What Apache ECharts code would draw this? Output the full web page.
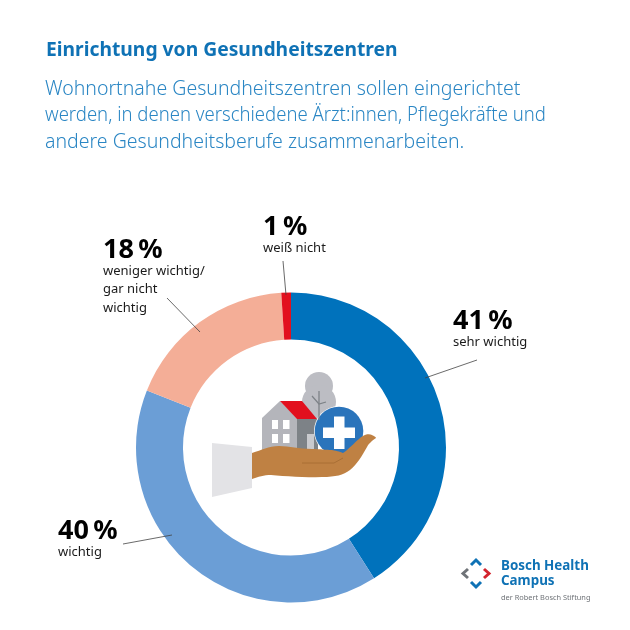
<!DOCTYPE html>
<html lang="de">
<head>
    <meta charset="utf-8"/>
    <title>Einrichtung von Gesundheitszentren</title>
    <script src="https://cdn.jsdelivr.net/npm/echarts@6/dist/echarts.min.js"></script>
</head>
<body style="margin: 0;background: #fff">
<div id="chart" style="width: 630px;height: 630px"></div>
<script>
    const categories = ['sehr wichtig', 'wichtig', 'weniger wichtig/\ngar nicht\nwichtig', 'weiß nicht'];
    const values = [41, 40, 18, 1];
    const colors = ['#0072bc', '#6b9ed6', '#f4ae97', '#e2101e'];
    const titleText = 'Einrichtung von Gesundheitszentren';
    const subtitleLines = [
        'Wohnortnahe Gesundheitszentren sollen eingerichtet',
        'werden, in denen verschiedene Ärzt:innen, Pflegekräfte und',
        'andere Gesundheitsberufe zusammenarbeiten.'
    ];
    const FONT = '"Noto Sans", sans-serif';

    // label anchors + leader lines, same order as categories
    const labelPos = [[453, 321], [58, 531], [103, 250], [263, 227]];
    const leaders = [
        [[477, 360], [425, 378]],
        [[123, 544], [172, 535]],
        [[167, 298], [200, 332]],
        [[283, 261], [286, 295]]
    ];
    // the source font runs narrower on line 2
    const subtitleScale = [1, 0.95, 1];

    // hand outline: start point, then cubic segments
    const handStart = [252, 453];
    const handCurves = [
        [262, 450, 268, 446, 279, 446], [290, 446, 298, 449, 312, 449], [320, 449, 326, 450, 332, 450],
        [338, 451, 341, 452, 343, 453], [349, 449, 354, 443, 359, 439], [363, 435, 368, 433, 372, 435],
        [374, 436, 376, 437, 376, 438], [372, 441, 369, 443, 367, 447], [362, 456, 357, 464, 350, 470],
        [343, 475, 336, 477, 322, 477], [305, 478, 285, 476, 271, 475], [264, 475, 258, 477, 252, 479]
    ];

    function text(x, y, str, size, weight, color, extra) {
        return Object.assign({
            type: 'text', x: x, y: y, silent: true,
            style: {
                text: str, fill: color, verticalAlign: 'middle',
                font: weight + ' ' + size + 'px ' + FONT
            }
        }, extra || {});
    }
    function poly(points, fill) {
        return {type: 'polygon', silent: true, shape: {points: points}, style: {fill: fill}};
    }
    function rect(x, y, w, h, fill) {
        return {type: 'rect', silent: true, shape: {x: x, y: y, width: w, height: h}, style: {fill: fill}};
    }
    function circle(cx, cy, r, fill) {
        return {type: 'circle', silent: true, shape: {cx: cx, cy: cy, r: r}, style: {fill: fill}};
    }
    function line(points, stroke, width) {
        return {
            type: 'polyline', silent: true, z: 10, shape: {points: points},
            style: {stroke: stroke, lineWidth: width, fill: null, lineJoin: 'miter'}
        };
    }
    function flatten(start, curves) {
        let pts = [start], p = start;
        curves.forEach(c => {
            for (let k = 1; k <= 8; k++) {
                const t = k / 8, u = 1 - t;
                pts.push([
                    u * u * u * p[0] + 3 * u * u * t * c[0] + 3 * u * t * t * c[2] + t * t * t * c[4],
                    u * u * u * p[1] + 3 * u * u * t * c[1] + 3 * u * t * t * c[3] + t * t * t * c[5]
                ]);
            }
            p = [c[4], c[5]];
        });
        return pts;
    }

    let graphics = [
        text(46, 51, titleText, 19.3, 700, '#0f72b5')
    ];
    subtitleLines.forEach((s, i) => {
        graphics.push(text(45, 89 + i * 26.5, s, 19.5, 300, '#2a86c4', {scaleX: subtitleScale[i]}));
    });

    // labels and leader lines
    categories.forEach((c, i) => {
        const p = labelPos[i];
        graphics.push(text(p[0], p[1], values[i] + '\u2009%', 27, 700, '#000'));
        c.split('\n').forEach((s, j) => {
            graphics.push(text(p[0], p[1] + 21 + j * 18.5, s, 13, 400, '#1a1a1a'));
        });
        graphics.push(line(leaders[i], '#444', 0.8));
    });

    // illustration in the ring
    graphics.push(
        circle(319, 386, 14, '#bcbdc3'),
        circle(319, 402, 17, '#bcbdc3'),
        line([[319, 391], [319, 420]], '#7d8287', 1.3),
        line([[312, 396], [319, 404], [326, 402]], '#7d8287', 1.2),
        poly([[262, 418], [280, 401], [297, 418], [297, 450], [262, 450]], '#b4b5bb'),
        poly([[297, 419], [318, 419], [318, 450], [297, 450]], '#7d8287'),
        rect(307, 434, 7, 16, '#c9cace'),
        poly([[280, 401], [302, 401], [317, 419], [297, 419]], '#e2101e'),
        rect(272, 420, 6, 9, '#fff'),
        rect(283, 420, 6.5, 9, '#fff'),
        rect(272, 434, 6, 9, '#fff'),
        rect(283, 434, 6.5, 9, '#fff'),
        poly([[212, 443], [252, 447], [252, 488], [212, 497]], '#e3e3e6'),
        circle(339, 431, 25, '#fff'),
        circle(339, 431, 24.3, '#2a74bb'),
        rect(323, 427.5, 32, 10.5, '#fff'),
        rect(334, 416.5, 10.5, 32.5, '#fff'),
        poly(flatten(handStart, handCurves), '#bf8143'),
        line([[302, 463], [334, 463], [343, 458]], '#a96f35', 1)
    );

    // logo
    graphics.push(
        line([[471, 565], [476, 560], [481, 565]], '#0f72b5', 3),
        line([[484, 569], [489, 573.5], [484, 578]], '#d3242e', 3),
        line([[471, 582], [476, 587], [481, 582]], '#0f72b5', 3),
        line([[468, 569], [463, 573.5], [468, 578]], '#6f7378', 3),
        text(501, 566.5, 'Bosch Health', 13.4, 700, '#0f72b5'),
        text(501, 581.5, 'Campus', 13.4, 700, '#0f72b5'),
        text(501, 598, 'der Robert Bosch Stiftung', 7.4, 400, '#6f7378')
    );

    let chart = echarts.init(document.getElementById('chart'), null, {renderer: 'canvas'});
    chart.setOption({
        animation: false,
        backgroundColor: '#fff',
        series: [{
            type: 'pie',
            center: [291, 447.5],
            radius: [108, 155],
            startAngle: 90,
            clockwise: true,
            silent: true,
            label: {show: false},
            labelLine: {show: false},
            data: categories.map((c, i) => ({
                name: c, value: values[i], itemStyle: {color: colors[i]}
            }))
        }],
        graphic: graphics
    });
</script>
</body>
</html>
